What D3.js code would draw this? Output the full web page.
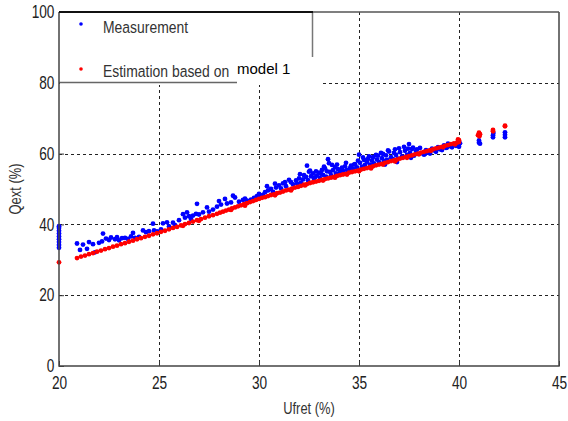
<!DOCTYPE html>
<html>
<head>
<meta charset="utf-8">
<script src="https://cdn.jsdelivr.net/npm/d3@7"></script>
<style>
  body { margin: 0; background: #fff; }
  svg text { font-family: "Liberation Sans", Arial, sans-serif; }
</style>
</head>
<body>
<svg id="chart" width="568" height="421"></svg>
<script>
// Axis ticks
const xTicks = [20, 25, 30, 35, 40, 45];
const yTicks = [0, 20, 40, 60, 80, 100];

// Measured Qext against Ufret
const measX = [
  20.0, 20.0, 20.0, 20.0, 20.0, 20.0, 20.0, 20.0, 20.0,
  20.9, 21.05, 21.2, 21.4, 21.5, 21.7, 21.8, 22.0, 22.15, 22.2, 22.35, 22.5, 22.6, 22.8, 22.9,
  23.0, 23.15, 23.3, 23.45, 23.6, 23.7, 23.8, 24.0, 24.2, 24.35, 24.5, 24.7, 24.75, 24.9,
  25.1, 25.2, 25.4, 25.5, 25.7, 25.8, 26.0, 26.2, 26.3, 26.4, 26.5, 26.6, 26.7, 26.85, 26.9,
  27.0, 27.2, 27.4, 27.5, 27.7, 27.9, 28.0, 28.1, 28.3, 28.4, 28.6, 28.7, 28.8,
  29.0, 29.2, 29.3, 29.4, 29.6, 29.75, 30.0, 30.05, 30.2, 30.4, 30.45, 30.6, 30.8, 30.85,
  31.0, 31.1, 31.2, 31.35, 31.5, 31.6, 31.7, 31.85, 32.0, 32.1, 32.2, 32.35, 32.4, 32.45,
  32.55, 32.6, 32.7, 32.75, 32.85, 32.9, 33.0, 33.05, 33.15, 33.2, 33.3, 33.35, 33.45, 33.5,
  33.55, 33.6, 33.7, 33.8, 33.85, 33.95, 34.05, 34.15, 34.2, 34.3, 34.4, 34.5, 34.6, 34.7,
  34.8, 34.9, 35.0, 35.05, 35.15, 35.25, 35.3, 35.4, 35.5, 35.55, 35.65, 35.75, 35.85, 35.9,
  36.0, 36.1, 36.15, 36.25, 36.35, 36.4, 36.5, 36.6, 36.7, 36.8, 36.85, 36.95, 37.05, 37.15,
  37.3, 37.4, 37.5, 37.55, 37.65, 37.75, 37.85, 37.95, 38.05, 38.15, 38.25, 38.35, 38.45,
  38.55, 38.65, 38.75, 38.85, 38.95, 39.05, 39.15, 39.25, 39.35, 39.45, 39.55, 39.65, 39.75,
  39.85, 39.95, 40.0, 40.05, 36.3, 36.9, 37.6, 38.3, 39.4,
  32.05, 32.25, 32.5, 32.8, 33.1, 33.25, 33.4, 33.65, 33.9, 34.1, 34.35, 34.55, 34.75, 34.95,
  35.2, 35.45, 35.7, 35.95, 36.2, 36.45, 36.75, 37.0, 37.25, 37.45, 37.7, 37.9,
  30.7, 31.3, 31.9, 29.9, 30.3,
  41.0, 41.0, 41.05, 41.7, 41.7, 41.72, 42.3, 42.3, 42.3
];
const measY = [
  33.4, 34.2, 35.0, 35.8, 36.6, 37.4, 38.2, 39.0, 39.5,
  34.6, 32.8, 34.3, 33.1, 35.0, 34.4, 32.1, 34.8, 35.2, 37.4, 36.0, 35.6, 36.3, 35.8, 36.4,
  35.5, 36.1, 36.2, 35.9, 36.6, 37.6, 36.2, 36.5, 38.3, 37.8, 38.1, 40.2, 38.3, 38.0,
  38.6, 40.3, 40.6, 39.4, 40.5, 39.8, 41.2, 42.9, 41.9, 43.4, 42.3, 41.5, 42.5, 43.0, 45.8,
  42.8, 43.4, 44.8, 43.6, 44.2, 45.0, 46.6, 45.6, 47.2, 45.9, 46.2, 48.1, 47.6,
  46.4, 46.9, 47.3, 46.7, 47.0, 47.5, 48.6, 47.9, 48.3, 50.8, 49.6, 50.0, 51.5, 50.4,
  51.0, 50.2, 51.6, 50.8, 52.6, 51.9, 51.3, 52.4, 53.0, 51.8, 52.7, 53.4, 56.6, 52.5,
  55.2, 53.6, 54.4, 52.9, 55.0, 53.8, 54.6, 53.1, 55.4, 54.0, 55.8, 53.5, 58.4, 57.3,
  54.8, 53.9, 55.3, 56.2, 54.4, 55.6, 54.7, 56.0, 55.1, 56.4, 55.4, 54.9, 56.6, 55.7,
  57.0, 56.1, 59.7, 57.4, 56.3, 58.2, 56.8, 57.7, 59.2, 56.9, 58.0, 57.2, 59.6, 58.3,
  57.6, 60.2, 58.7, 57.9, 59.5, 58.2, 60.6, 59.0, 58.4, 61.2, 59.6, 58.6, 60.4, 59.2,
  60.8, 59.6, 62.7, 60.2, 61.3, 59.4, 60.7, 59.9, 61.6, 60.1, 59.7, 61.0, 60.3,
  60.0, 61.4, 60.9, 60.5, 61.8, 61.2, 61.0, 62.3, 61.6, 62.8, 62.1, 61.8, 62.6,
  62.2, 62.4, 61.9, 62.9, 56.9, 57.6, 58.8, 59.9, 61.7,
  54.2, 53.9, 54.9, 53.3, 54.3, 56.3, 55.0, 56.8, 56.9, 55.2, 57.4, 55.9, 56.9, 58.0,
  58.9, 58.5, 59.0, 59.4, 59.9, 60.9, 60.2, 61.5, 61.9, 61.4, 61.7, 61.2,
  49.2, 51.9, 51.6, 48.0, 49.1,
  63.1, 63.7, 62.8, 64.6, 65.2, 65.8, 64.6, 65.3, 66.0
];

// Qext estimated with model 1
const estX = [
  20.0,
  20.9, 21.1, 21.3, 21.5, 21.7, 21.9, 22.1, 22.3, 22.5, 22.7, 22.9, 23.1, 23.3, 23.5, 23.7,
  23.9, 24.1, 24.3, 24.5, 24.7, 24.9, 25.1, 25.3, 25.5, 25.7, 25.9, 26.1, 26.3, 26.5, 26.7,
  26.9, 27.1, 27.3, 27.5, 27.7, 27.9,
  28.05, 28.2, 28.35, 28.5, 28.65, 28.8, 28.95, 29.1, 29.25, 29.4, 29.55, 29.7, 29.85, 30.0,
  30.15, 30.3, 30.45, 30.6, 30.75, 30.9, 31.05, 31.2, 31.35, 31.5, 31.65, 31.8, 31.95, 32.1,
  32.25, 32.4, 32.55, 32.7, 32.85, 33.0, 33.15, 33.3, 33.45, 33.6, 33.75, 33.9, 34.05, 34.2,
  34.35, 34.5, 34.65, 34.8, 34.95, 35.1, 35.25, 35.4, 35.55, 35.7, 35.85, 36.0, 36.15, 36.3,
  36.45, 36.6, 36.75, 36.9, 37.05, 37.2, 37.35, 37.5, 37.65, 37.8, 37.95, 38.1, 38.25, 38.4,
  38.55, 38.7, 38.85, 39.0, 39.15, 39.3, 39.45, 39.6, 39.75, 39.9, 40.0, 40.0, 39.95,
  30.8, 31.6, 32.3, 33.2, 33.8, 34.4, 35.0, 35.6, 36.2, 36.8, 37.4, 38.0, 38.6, 39.2, 39.8,
  29.3, 28.6, 27.0, 26.2,
  40.95, 41.05, 41.0, 41.02, 41.7, 41.7, 42.3, 42.3
];
const estY = [
  29.3,
  30.5, 30.9, 31.2, 31.6, 31.9, 32.3, 32.6, 33.0, 33.3, 33.7, 34.0, 34.4, 34.7, 35.1, 35.4,
  35.8, 36.1, 36.5, 36.8, 37.2, 37.5, 37.9, 38.2, 38.6, 39.0, 39.3, 39.7, 40.1, 40.4, 40.8,
  41.2, 41.5, 41.9, 42.3, 42.6, 43.0,
  43.3, 43.6, 43.9, 44.2, 44.5, 44.8, 45.1, 45.4, 45.7, 46.0, 46.3, 46.6, 46.9, 47.2,
  47.5, 47.7, 48.0, 48.3, 48.5, 48.8, 49.0, 49.3, 49.6, 49.8, 50.1, 50.4, 50.6, 50.9,
  51.2, 51.4, 51.7, 51.9, 52.1, 52.3, 52.6, 52.8, 53.0, 53.2, 53.4, 53.7, 53.9, 54.1,
  54.3, 54.6, 54.8, 55.0, 55.2, 55.5, 55.7, 55.9, 56.2, 56.4, 56.7, 56.9, 57.1, 57.4,
  57.6, 57.9, 58.1, 58.3, 58.6, 58.8, 59.1, 59.3, 59.5, 59.8, 60.0, 60.3, 60.5, 60.7,
  61.0, 61.2, 61.5, 61.7, 61.9, 62.2, 62.4, 62.7, 62.9, 63.1, 63.3, 63.8, 64.0,
  48.2, 49.6, 51.0, 52.4, 53.2, 54.1, 55.0, 55.8, 56.9, 57.8, 58.8, 59.8, 60.8, 61.8, 62.6,
  45.3, 44.1, 41.0, 39.6,
  65.2, 65.5, 65.9, 64.9, 66.3, 66.7, 67.7, 67.9
];

const legendLabels = ["Measurement", "Estimation based on", "model 1"];
const axisTitles = { x: "Ufret (%)", y: "Qext (%)" };

const measured = measX.map((v, i) => ({ x: v, y: measY[i] }));
const estimated = estX.map((v, i) => ({ x: v, y: estY[i] }));

const svg = d3.select("#chart");
const plotLeft = 59, plotRight = 559, plotTop = 12, plotBottom = 366;
const narrow = "scale(0.76,1)"; // condensed lettering

const x = d3.scaleLinear().domain([20, 45]).range([plotLeft, plotRight]);
const y = d3.scaleLinear().domain([0, 100]).range([plotBottom, plotTop]);

// Dashed grid
const grid = svg.append("g")
  .attr("stroke", "#222").attr("stroke-width", 1).attr("stroke-dasharray", "3,3");
grid.selectAll("line.v").data(xTicks.slice(1, -1)).join("line").attr("class", "v")
  .attr("x1", d => Math.round(x(d)) + 0.5).attr("x2", d => Math.round(x(d)) + 0.5)
  .attr("y1", y(100)).attr("y2", y(0));
grid.selectAll("line.h").data(yTicks.slice(1, -1)).join("line").attr("class", "h")
  .attr("x1", x(20)).attr("x2", x(45))
  .attr("y1", d => Math.round(y(d)) + 0.5).attr("y2", d => Math.round(y(d)) + 0.5);

// Axes with inward ticks
const xAxis = svg.append("g").attr("transform", `translate(0,${plotBottom})`)
  .call(d3.axisBottom(x).tickValues(xTicks).tickSize(-5).tickPadding(10).tickFormat(d3.format("d")));
const yAxis = svg.append("g").attr("transform", `translate(${plotLeft},0)`)
  .call(d3.axisLeft(y).tickValues(yTicks).tickSize(-5).tickPadding(6).tickFormat(d3.format("d")));
[xAxis, yAxis].forEach(g => {
  g.select(".domain").remove();
  g.selectAll(".tick line").attr("stroke", "#333");
  g.selectAll(".tick text").attr("fill", "#222").style("font-size", "18px").attr("transform", narrow);
});

// Points: measurement below, estimation on top
svg.append("g").selectAll("circle").data(measured).join("circle")
  .attr("cx", d => x(d.x)).attr("cy", d => y(d.y)).attr("r", 2.4).attr("fill", "#0000ff");
svg.append("g").selectAll("circle").data(estimated).join("circle")
  .attr("cx", d => x(d.x)).attr("cy", d => y(d.y)).attr("r", 2.4).attr("fill", "#ff0000");

// Legend box
const legend = svg.append("g");
legend.append("rect").attr("x", plotLeft + 1).attr("y", plotTop).attr("width", 263).attr("height", 73).attr("fill", "#fff");
legend.append("line").attr("x1", 312.5).attr("x2", 312.5).attr("y1", plotTop).attr("y2", 57)
  .attr("stroke", "#777").attr("stroke-width", 1.5);
legend.append("line").attr("x1", plotLeft).attr("x2", 237).attr("y1", 82.5).attr("y2", 82.5)
  .attr("stroke", "#666").attr("stroke-width", 1.5);
legend.append("circle").attr("cx", 81).attr("cy", 24).attr("r", 1.8).attr("fill", "#0000ff");
legend.append("circle").attr("cx", 81).attr("cy", 69).attr("r", 1.8).attr("fill", "#ff0000");
legend.append("text").attr("transform", "translate(103,33) scale(0.82,1)")
  .attr("fill", "#333").style("font-size", "17px").text(legendLabels[0]);
legend.append("text").attr("transform", "translate(103,77) scale(0.82,1)")
  .attr("fill", "#333").style("font-size", "17px").text(legendLabels[1]);
legend.append("text").attr("transform", "translate(237,74)")
  .attr("fill", "#000").style("font-size", "15px").text(legendLabels[2]);

// Frame
const frame = svg.append("g").attr("fill", "none");
frame.append("path")
  .attr("d", `M${plotRight},${plotTop} V${plotBottom} H${plotLeft} V${plotTop}`)
  .attr("stroke", "#444").attr("stroke-width", 1.5);
frame.append("line").attr("x1", 312).attr("x2", plotRight).attr("y1", plotTop).attr("y2", plotTop)
  .attr("stroke", "#555").attr("stroke-width", 1.3);
frame.append("line").attr("x1", plotLeft).attr("x2", 313).attr("y1", plotTop).attr("y2", plotTop)
  .attr("stroke", "#111").attr("stroke-width", 2.2);

// Axis titles
svg.append("text").attr("transform", `translate(${(plotLeft + plotRight) / 2},414) ${narrow}`)
  .attr("text-anchor", "middle").attr("fill", "#333").style("font-size", "17px").text(axisTitles.x);
svg.append("text").attr("transform", `translate(21,${(plotTop + plotBottom) / 2}) rotate(-90) ${narrow}`)
  .attr("text-anchor", "middle").attr("fill", "#333").style("font-size", "17px").text(axisTitles.y);
</script>
</body>
</html>
